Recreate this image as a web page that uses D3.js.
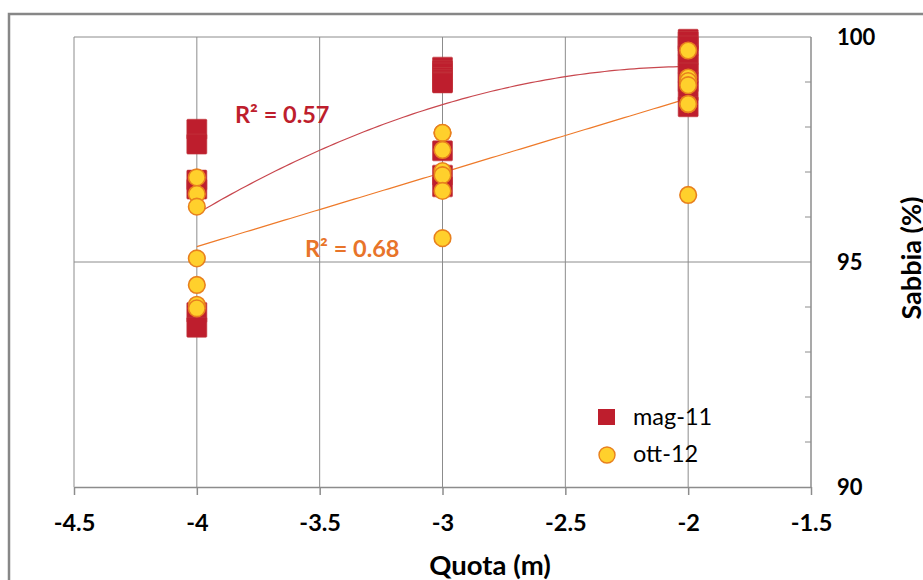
<!DOCTYPE html>
<html><head><meta charset="utf-8">
<script src="https://cdn.jsdelivr.net/npm/d3@7"></script>
<style>body{margin:0;background:#fff;} svg{display:block;font-family:Lato,"Open Sans",sans-serif;}</style>
</head><body>
<svg id="chart" width="923" height="580"></svg>
<script>
// ---- data ----
const xTicks = [-4.5, -4, -3.5, -3, -2.5, -2, -1.5];
const yTicks = [90, 95, 100];
const yMinorTicks = [91, 92, 93, 94, 96, 97, 98, 99];
const seriesNames = ["mag-11", "ott-12"];
const r2Labels = ["R\u00B2 = 0.57", "R\u00B2 = 0.68"];
const xTitle = "Quota (m)";
const yTitle = "Sabbia (%)";

const magQuota = [-4,-4,-4,-4,-4,-4,
  -3,-3,-3,-3,-3,-3,-3,-3,-3,-3,
  -2,-2,-2,-2,-2,-2,-2,-2,-2];
const magSabbia = [97.95,97.62,96.82,96.62,93.88,93.55,
  99.33,99.25,99.2,99.1,99.05,99.0,98.98,97.47,96.93,96.67,
  99.95,99.9,99.8,99.6,99.4,99.2,99.0,98.8,98.45];

const ottQuota = [-4,-4,-4,-4,-4,-4,-4,
  -3,-3,-3,-3,-3,-3,-3,
  -2,-2,-2,-2,-2,-2,-2];
const ottSabbia = [96.88,96.51,96.23,95.08,94.49,94.05,93.97,
  97.87,97.87,97.49,97.02,96.93,96.58,95.53,
  99.70,99.10,99.02,98.93,98.51,98.51,96.49];

// ---- helpers: least squares polynomial fit ----
function polyfit(xs, ys, deg) {
  const n = deg + 1;
  const A = Array.from({length: n}, () => new Array(n + 1).fill(0));
  for (let k = 0; k < xs.length; k++) {
    for (let i = 0; i < n; i++) {
      for (let j = 0; j < n; j++) A[i][j] += Math.pow(xs[k], i + j);
      A[i][n] += ys[k] * Math.pow(xs[k], i);
    }
  }
  for (let i = 0; i < n; i++) {
    let p = i;
    for (let r = i + 1; r < n; r++) if (Math.abs(A[r][i]) > Math.abs(A[p][i])) p = r;
    [A[i], A[p]] = [A[p], A[i]];
    for (let r = 0; r < n; r++) {
      if (r === i) continue;
      const f = A[r][i] / A[i][i];
      for (let c = i; c <= n; c++) A[r][c] -= f * A[i][c];
    }
  }
  return A.map((row, i) => row[n] / row[i]);
}
const evalPoly = (c, x) => c.reduce((s, ci, i) => s + ci * Math.pow(x, i), 0);

// ---- chart ----
const svg = d3.select("#chart");
const RED = "#BE1E2D", YEL = "#FFD02C", ORG = "#E8801E";
const GRID = "#8c8c8c";

const x = d3.scaleLinear().domain([-4.5, -1.5]).range([74, 811]);
const y = d3.scaleLinear().domain([90, 100]).range([487, 37]);

// outer frame
svg.append("rect").attr("x", 9).attr("y", 14).attr("width", 940).attr("height", 600)
  .attr("fill", "none").attr("stroke", "#878787").attr("stroke-width", 2.5);

// vertical gridlines
svg.append("g").selectAll("line").data(xTicks.slice(0, -1)).join("line")
  .attr("x1", d => x(d)).attr("x2", d => x(d)).attr("y1", y(100)).attr("y2", y(90))
  .attr("stroke", GRID).attr("stroke-width", 1);
// horizontal gridlines
svg.append("g").selectAll("line").data([95, 100]).join("line")
  .attr("x1", x(-4.5)).attr("x2", x(-1.5)).attr("y1", d => y(d)).attr("y2", d => y(d))
  .attr("stroke", GRID).attr("stroke-width", 1);

// x axis
const xAxis = svg.append("g").attr("transform", `translate(0,${y(90)})`)
  .call(d3.axisBottom(x).tickValues(xTicks).tickSize(8).tickSizeOuter(0).tickFormat(d => String(d)));
xAxis.select(".domain").attr("stroke", GRID).attr("stroke-width", 1.5);
xAxis.selectAll(".tick line").attr("stroke", GRID).attr("stroke-width", 1.5);
xAxis.selectAll(".tick text").attr("y", 44).attr("dy", 0)
  .attr("font-size", 23.5).attr("font-weight", "bold").attr("fill", "#000")
  .attr("font-family", "Lato");

// y axis on right
svg.append("line").attr("x1", x(-1.5)).attr("x2", x(-1.5)).attr("y1", y(100)).attr("y2", y(90))
  .attr("stroke", GRID).attr("stroke-width", 1.5);
svg.append("g").selectAll("line").data(yMinorTicks).join("line")
  .attr("x1", x(-1.5) - 6).attr("x2", x(-1.5)).attr("y1", d => y(d)).attr("y2", d => y(d))
  .attr("stroke", GRID).attr("stroke-width", 1);
svg.append("g").selectAll("text").data(yTicks).join("text")
  .attr("x", x(-1.5) + 26).attr("y", d => y(d) + 8)
  .attr("font-size", 22).attr("font-weight", "bold").attr("fill", "#000")
  .text(d => d);

// titles
svg.append("text").attr("x", 490).attr("y", 575).attr("text-anchor", "middle")
  .attr("font-size", 27.5).attr("font-weight", "bold").attr("fill", "#000").text(xTitle);
svg.append("text").attr("transform", "translate(921,258) rotate(-90)").attr("text-anchor", "middle")
  .attr("font-size", 27).attr("font-weight", "bold").attr("fill", "#000").text(yTitle);

// trendlines
const magCoef = polyfit(magQuota, magSabbia, 2);
const ottCoef = polyfit(ottQuota, ottSabbia, 1);
const xs = d3.range(0, 101).map(i => -4 + i * 0.02);
const line = d3.line().x(d => x(d[0])).y(d => y(d[1]));
svg.append("path").datum(xs.map(v => [v, evalPoly(magCoef, v)])).attr("d", line)
  .attr("fill", "none").attr("stroke", "#C8474E").attr("stroke-width", 1.2);
svg.append("path").datum(xs.map(v => [v, evalPoly(ottCoef, v)])).attr("d", line)
  .attr("fill", "none").attr("stroke", "#EE7A2A").attr("stroke-width", 1.2);

// mag-11 squares
const SQ = 20;
svg.append("g").selectAll("rect").data(magQuota.map((q, i) => [q, magSabbia[i]])).join("rect")
  .attr("x", d => x(d[0]) - SQ / 2).attr("y", d => y(d[1]) - SQ / 2)
  .attr("width", SQ).attr("height", SQ).attr("rx", 1)
  .attr("fill", RED).attr("stroke", "#C33a40").attr("stroke-width", 0.6);

// ott-12 circles
svg.append("g").selectAll("circle").data(ottQuota.map((q, i) => [q, ottSabbia[i]])).join("circle")
  .attr("cx", d => x(d[0])).attr("cy", d => y(d[1])).attr("r", 8.3)
  .attr("fill", YEL).attr("stroke", ORG).attr("stroke-width", 1.6);

// R² labels
svg.append("text").attr("x", 235).attr("y", 123).attr("font-size", 23.5).attr("font-weight", "bold")
  .attr("fill", RED).text(r2Labels[0]);
svg.append("text").attr("x", 305).attr("y", 257).attr("font-size", 23.5).attr("font-weight", "bold")
  .attr("fill", "#E8742A").text(r2Labels[1]);

// legend
const lg = svg.append("g");
lg.append("rect").attr("x", 598).attr("y", 409).attr("width", 17).attr("height", 16).attr("fill", RED);
lg.append("circle").attr("cx", 607).attr("cy", 455).attr("r", 8)
  .attr("fill", YEL).attr("stroke", ORG).attr("stroke-width", 1.4);
lg.selectAll("text").data(seriesNames).join("text")
  .attr("x", 633).attr("y", (d, i) => 425 + i * 37)
  .attr("font-size", 23.5).attr("fill", "#000").text(d => d);
</script>
</body></html>
